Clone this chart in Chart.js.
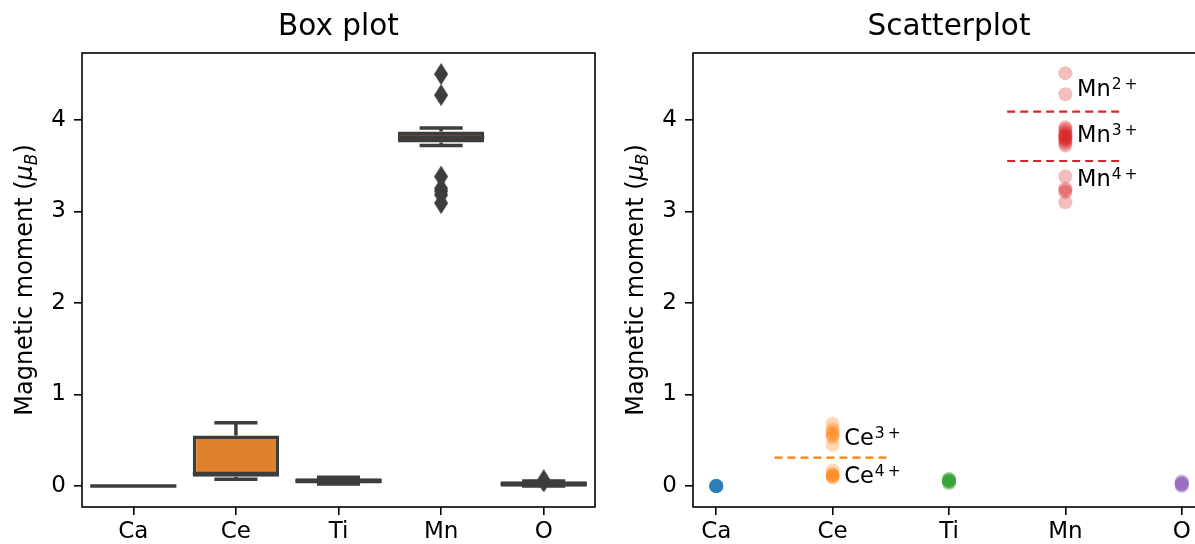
<!DOCTYPE html>
<html lang="en">
<head>
<meta charset="UTF-8">
<title>Magnetic moments</title>
<script src="https://cdn.jsdelivr.net/npm/chart.js"></script>
<style>
  html, body { margin: 0; padding: 0; background: #fff; overflow: hidden; }
  #wrap { position: relative; width: 1195px; height: 544px; }
  #boxCanvas { position: absolute; left: 0; top: 0; }
  #scatterBox { position: absolute; left: 600px; top: 0; width: 595px; height: 544px; overflow: hidden; }
</style>
</head>
<body>
<div id="wrap">
  <canvas id="boxCanvas" width="600" height="544"></canvas>
  <div id="scatterBox"><canvas id="scatterCanvas" width="615" height="544"></canvas></div>
</div>
<script>
// ---- data ----
const elements = ['Ca', 'Ce', 'Ti', 'Mn', 'O'];
const yTicks = [0, 1, 2, 3, 4];

// box plot: whiskers, quartiles, medians, outliers
const boxLow    = [0, 0.073, 0.02, 3.72, 0.0];
const boxQ1     = [0, 0.10, 0.027, 3.753, -0.01];
const boxMedian = [0, 0.135, 0.055, 3.81, 0.02];
const boxQ3     = [0, 0.55, 0.084, 3.873, 0.05];
const boxHigh   = [0, 0.69, 0.095, 3.91, 0.055];
const mnOutliers = [4.50, 4.27, 3.38, 3.25, 3.22, 3.18, 3.09];
const oOutliers  = [0.06, 0.05];

// scatterplot: moments per atom
const caMoments = [0, 0, 0, 0, 0, 0, 0, 0];
const ceMoments = [0.68, 0.62, 0.59, 0.57, 0.55, 0.53, 0.45, 0.17, 0.13, 0.12, 0.11, 0.10, 0.09];
const tiMoments = [0.03, 0.04, 0.05, 0.05, 0.06, 0.06, 0.07, 0.08];
const mnMoments = [4.51, 4.28, 3.92, 3.90, 3.88, 3.86, 3.84, 3.83, 3.82, 3.81, 3.80, 3.79, 3.78, 3.76, 3.74, 3.72, 3.38, 3.25, 3.23, 3.21, 3.10];
const oMoments  = [0.00, 0.01, 0.01, 0.02, 0.02, 0.03, 0.03, 0.04, 0.05];

// dashed separators between oxidation states
const splitValue = [0.31, 4.09, 3.55];
const splitFrom  = [0.5, 2.5, 2.5];
const splitTo    = [1.5, 3.5, 3.5];

// oxidation state labels
const ionBase   = ['Ce', 'Ce', 'Mn', 'Mn', 'Mn'];
const ionCharge = ['3+', '4+', '2+', '3+', '4+'];
const ionX      = [1.1, 1.1, 3.1, 3.1, 3.1];
const ionY      = [0.537, 0.12, 4.35, 3.85, 3.36];

// ---- styles ----
const boxGray = '#3d3d3d';
const boxFills = ['#3274a1', '#e1812c', '#3a923a', '#c03d3e', '#9372b2'];
const dotColors = ['rgba(31,119,180,0.3)', 'rgba(255,127,14,0.3)', 'rgba(44,160,44,0.3)', 'rgba(214,39,40,0.3)', 'rgba(148,103,189,0.3)'];
const splitColors = ['#ff7f0e', '#d62728', '#d62728'];
const tickSize = 23;

Chart.defaults.font.family = "'DejaVu Sans'";
Chart.defaults.color = '#000';

// thin diamond marker for the outliers
const diamond = document.createElement('canvas');
diamond.width = 14; diamond.height = 22;
(function () {
    const c = diamond.getContext('2d');
    c.fillStyle = boxGray;
    c.beginPath();
    c.moveTo(7, 0); c.lineTo(14, 11); c.lineTo(7, 22); c.lineTo(0, 11);
    c.closePath();
    c.fill();
})();

function xAxis(min, max) {
    return {
        type: 'linear', min: min, max: max, offset: false,
        afterBuildTicks: s => { s.ticks = elements.map((e, i) => ({ value: i })); },
        afterFit: s => { s.height = 37; },
        grid: { display: true, offset: false, drawOnChartArea: false, tickLength: 8, color: '#000', lineWidth: 1.6 },
        border: { display: false },
        ticks: { callback: v => elements[v], font: { size: tickSize }, color: '#000', padding: 3, maxRotation: 0, autoSkip: false }
    };
}

function yAxis(width) {
    return {
        type: 'linear', min: -0.23, max: 4.73,
        afterBuildTicks: s => { s.ticks = yTicks.map(v => ({ value: v })); },
        afterFit: s => { s.width = width; },
        grid: { display: true, drawOnChartArea: false, tickLength: 8, color: '#000', lineWidth: 1.6 },
        border: { display: false },
        ticks: { callback: v => String(v), font: { size: tickSize }, color: '#000', padding: 8 }
    };
}

// title centred over the plot area, not the whole canvas
function titleOpts(text) {
    return { display: true, fullSize: false, text: text, font: { size: 29.5, weight: 'normal' }, color: '#000', padding: { top: 10, bottom: 7.6 } };
}

// frame round the plot area (all four spines)
const frame = {
    id: 'frame',
    afterDraw(chart) {
        const { ctx, chartArea: a } = chart;
        ctx.save();
        ctx.strokeStyle = '#000';
        ctx.lineWidth = 1.6;
        ctx.strokeRect(a.left, a.top, a.right - a.left, a.bottom - a.top);
        ctx.restore();
    }
};

// y axis title with mu_B written like mathtext
const yTitle = {
    id: 'yTitle',
    afterDraw(chart, args, opts) {
        const { ctx, chartArea: a } = chart;
        const size = 24;
        const parts = [
            { t: 'Magnetic moment (', f: size + 'px DejaVu Sans', dy: 0 },
            { t: 'μ', f: 'italic ' + size + 'px DejaVu Sans', dy: 0 },
            { t: 'B', f: 'italic ' + (size * 0.7) + 'px DejaVu Sans', dy: size * 0.22 },
            { t: ')', f: size + 'px DejaVu Sans', dy: 0 }
        ];
        ctx.save();
        ctx.translate(opts.x, (a.top + a.bottom) / 2);
        ctx.rotate(-Math.PI / 2);
        ctx.fillStyle = '#000';
        ctx.textBaseline = 'alphabetic';
        ctx.textAlign = 'left';
        let total = 0;
        parts.forEach(p => { ctx.font = p.f; p.w = ctx.measureText(p.t).width; total += p.w; });
        let xx = -total / 2;
        parts.forEach(p => { ctx.font = p.f; ctx.fillText(p.t, xx, p.dy); xx += p.w; });
        ctx.restore();
    }
};

// whiskers, caps and medians of the box plot
const boxLines = {
    id: 'boxLines',
    afterDatasetsDraw(chart) {
        const { ctx, scales: { x, y } } = chart;
        ctx.save();
        ctx.strokeStyle = boxGray;
        ctx.lineWidth = 3.5;
        elements.forEach((el, i) => {
            const cx = x.getPixelForValue(i);
            const halfBox = x.getPixelForValue(i + 0.42) - cx;
            const halfCap = x.getPixelForValue(i + 0.21) - cx;
            const yl = y.getPixelForValue(boxLow[i]), yq1 = y.getPixelForValue(boxQ1[i]);
            const yq3 = y.getPixelForValue(boxQ3[i]), yh = y.getPixelForValue(boxHigh[i]);
            const ym = y.getPixelForValue(boxMedian[i]);
            ctx.beginPath();
            ctx.moveTo(cx, yl); ctx.lineTo(cx, yq1);
            ctx.moveTo(cx, yq3); ctx.lineTo(cx, yh);
            ctx.moveTo(cx - halfCap, yl); ctx.lineTo(cx + halfCap, yl);
            ctx.moveTo(cx - halfCap, yh); ctx.lineTo(cx + halfCap, yh);
            ctx.moveTo(cx - halfBox, ym); ctx.lineTo(cx + halfBox, ym);
            ctx.stroke();
        });
        ctx.restore();
    }
};

// Mn^{2+} style labels
const ionLabels = {
    id: 'ionLabels',
    afterDatasetsDraw(chart) {
        const { ctx, scales: { x, y } } = chart;
        ctx.save();
        ctx.fillStyle = '#000';
        ctx.textAlign = 'left';
        ctx.textBaseline = 'alphabetic';
        ionBase.forEach((b, i) => {
            const px = x.getPixelForValue(ionX[i]);
            const base = y.getPixelForValue(ionY[i]) + 8;
            ctx.font = '22.5px DejaVu Sans';
            ctx.fillText(b, px, base);
            let sx = px + ctx.measureText(b).width + 1;
            ctx.font = '15.5px DejaVu Sans';
            ctx.fillText(ionCharge[i][0], sx, base - 7);
            sx += ctx.measureText(ionCharge[i][0]).width + 3;
            ctx.fillText(ionCharge[i][1], sx, base - 7);
        });
        ctx.restore();
    }
};

// ---- left: box plot ----
new Chart(document.getElementById('boxCanvas'), {
    type: 'bar',
    data: {
        datasets: [{
            data: elements.map((e, i) => ({ x: i, y: [boxQ1[i], boxQ3[i]] })),
            backgroundColor: boxFills,
            borderColor: boxGray,
            borderWidth: 3.5,
            borderSkipped: false,
            barPercentage: 1,
            categoryPercentage: 0.84
        }, {
            type: 'scatter',
            data: mnOutliers.map(v => ({ x: 3, y: v })).concat(oOutliers.map(v => ({ x: 4, y: v }))),
            pointStyle: diamond,
            pointRadius: 11
        }]
    },
    options: {
        responsive: false,
        animation: false,
        devicePixelRatio: 1,
        layout: { autoPadding: false, padding: { left: 0, right: 5, top: 0, bottom: 0 } },
        scales: { x: xAxis(-0.5, 4.5), y: yAxis(82) },
        plugins: {
            legend: { display: false },
            tooltip: { enabled: false },
            title: titleOpts('Box plot'),
            yTitle: { x: 32 }
        }
    },
    plugins: [boxLines, frame, yTitle]
});

// ---- right: scatterplot ----
const allMoments = [caMoments, ceMoments, tiMoments, mnMoments, oMoments];
const dotSets = allMoments.map((vals, i) => ({
    data: vals.map(v => ({ x: i, y: v })),
    backgroundColor: dotColors[i],
    borderWidth: 0,
    pointRadius: 7
}));
const splitSets = splitValue.map((v, i) => ({
    data: [{ x: splitFrom[i], y: v }, { x: splitTo[i], y: v }],
    showLine: true,
    borderColor: splitColors[i],
    borderWidth: 2.2,
    borderDash: [8, 5],
    pointRadius: 0
}));

new Chart(document.getElementById('scatterCanvas'), {
    type: 'scatter',
    data: { datasets: dotSets.concat(splitSets) },
    options: {
        responsive: false,
        animation: false,
        devicePixelRatio: 1,
        layout: { autoPadding: false, padding: { left: 0, right: 10, top: 0, bottom: 0 } },
        scales: { x: xAxis(-0.2, 4.2), y: yAxis(93) },
        plugins: {
            legend: { display: false },
            tooltip: { enabled: false },
            title: titleOpts('Scatterplot'),
            yTitle: { x: 43 }
        }
    },
    plugins: [ionLabels, frame, yTitle]
});
</script>
</body>
</html>
